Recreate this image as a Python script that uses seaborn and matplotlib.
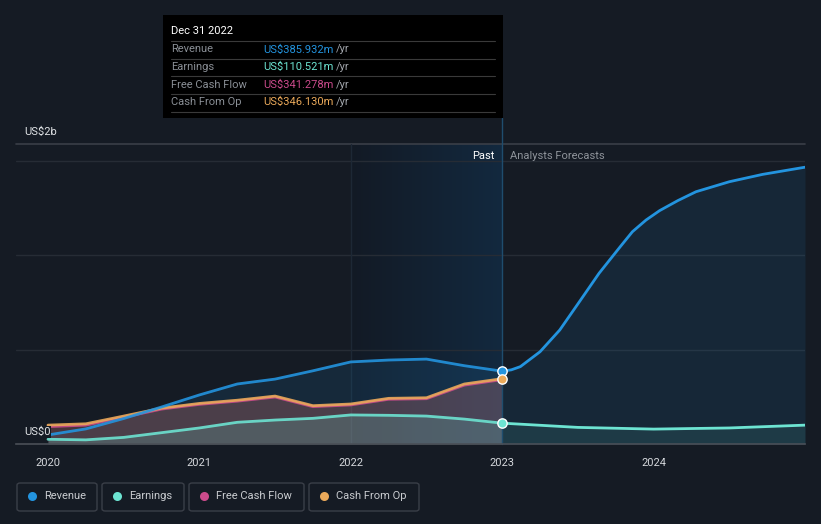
import numpy as np
import pandas as pd
import matplotlib
matplotlib.use("Agg")
import matplotlib.pyplot as plt
import seaborn as sns
from matplotlib.patches import FancyBboxPatch, Rectangle
from matplotlib.lines import Line2D
from matplotlib.colors import LinearSegmentedColormap

# ---------------- data (US$ millions) ----------------
years_past = [2020.0, 2020.25, 2020.5, 2020.75, 2021.0, 2021.25, 2021.5, 2021.75,
              2022.0, 2022.25, 2022.5, 2022.75, 2023.0]
revenue_past = [48, 80, 135, 196, 260, 318, 344, 388, 435, 445, 450, 415, 385.932]
earnings_past = [25, 22, 35, 60, 85, 115, 127, 136, 154, 152, 148, 132, 110.521]
cfo_past = [100, 107, 148, 190, 215, 232, 254, 203, 212, 242, 245, 318, 346.130]
fcf_past = [92, 100, 142, 185, 210, 227, 249, 198, 207, 237, 240, 312, 341.278]

years_rev_fc = [2023.0, 2023.06, 2023.12, 2023.25, 2023.38, 2023.51, 2023.64, 2023.78,
                2023.86, 2023.95, 2024.04, 2024.16, 2024.28, 2024.5, 2024.72, 2025.0]
revenue_fc = [385.932, 393, 410, 489, 604, 754, 905, 1046,
              1125, 1187, 1237, 1290, 1337, 1390, 1429, 1467]
years_earn_fc = [2023.0, 2023.5, 2024.0, 2024.5, 2025.0]
earnings_fc = [110.521, 88, 79, 85, 100]

x_ticks = [2020, 2021, 2022, 2023, 2024]
x_tick_labels = ["2020", "2021", "2022", "2023", "2024"]

series_names = ["Revenue", "Earnings", "Free Cash Flow", "Cash From Op"]
tooltip_values = ["US$385.932m", "US$110.521m", "US$341.278m", "US$346.130m"]

# ---------------- style ----------------
BG = "#151b24"
C = {"Revenue": "#2394df", "Earnings": "#6de4d2",
     "Free Cash Flow": "#cb4b8c", "Cash From Op": "#eaa95a"}

sns.set_theme(style="dark")
plt.rcParams["font.family"] = ["Roboto", "DejaVu Sans"]

W, H = 821, 524
fig = plt.figure(figsize=(W / 100, H / 100), dpi=100, facecolor=BG)
ax = fig.add_axes([16 / W, 1 - 444 / H, (805 - 16) / W, 300 / H])
ax.set_facecolor(BG)

YMAX = 1590
XMIN, XMAX = 2020 - 32 / 151.5, 2025.0
ax.set_xlim(XMIN, XMAX)
ax.set_ylim(0, YMAX)

# past highlight gradient 2022 -> 2023
cmap = LinearSegmentedColormap.from_list("past", ["#121a25", "#13293f"])
ax.imshow(np.linspace(0, 1, 256).reshape(1, -1), extent=[2022, 2023, 0, YMAX],
          aspect="auto", cmap=cmap, zorder=0.2)

# grid lines
for g in [500, 1000, 1500]:
    ax.axhline(g, color="#262c35", lw=1, zorder=0.3)
ax.axhline(YMAX, color="#3a3f48", lw=1.2, zorder=0.3, clip_on=False)
ax.axvline(2022, color="#1d2835", lw=1, zorder=0.4)

# fills (past)
ax.fill_between(years_past, revenue_past, 0, color=C["Revenue"], alpha=0.12, lw=0, zorder=1)
ax.fill_between(years_past, cfo_past, 0, color=C["Cash From Op"], alpha=0.15, lw=0, zorder=1.1)
ax.fill_between(years_past, fcf_past, 0, color=C["Free Cash Flow"], alpha=0.15, lw=0, zorder=1.2)
ax.fill_between(years_past, earnings_past, 0, color=C["Earnings"], alpha=0.18, lw=0, zorder=1.3)
# fills (forecast)
ax.fill_between(years_rev_fc, revenue_fc, 0, color=C["Revenue"], alpha=0.10, lw=0, zorder=1)
ax.fill_between(years_earn_fc, earnings_fc, 0, color=C["Earnings"], alpha=0.10, lw=0, zorder=1.3)

# lines via seaborn
past_df = pd.DataFrame({
    "year": years_past * 4,
    "value": revenue_past + earnings_past + fcf_past + cfo_past,
    "series": sum([[s] * len(years_past) for s in series_names], []),
})
fc_df = pd.DataFrame({
    "year": years_rev_fc + years_earn_fc,
    "value": revenue_fc + earnings_fc,
    "series": ["Revenue"] * len(years_rev_fc) + ["Earnings"] * len(years_earn_fc),
})
order = ["Earnings", "Free Cash Flow", "Cash From Op", "Revenue"]
sns.lineplot(data=past_df, x="year", y="value", hue="series", hue_order=order,
             palette=C, linewidth=2.0, legend=False, ax=ax, alpha=0.9, zorder=3,
             solid_joinstyle="round", solid_capstyle="round")
sns.lineplot(data=fc_df, x="year", y="value", hue="series", hue_order=["Earnings", "Revenue"],
             palette=C, linewidth=2.0, legend=False, ax=ax, zorder=3,
             solid_joinstyle="round", solid_capstyle="round")

# vertical marker line at 2023
ax.axvline(2023, ymin=0, ymax=(444 - 118) / 300, color="#1f4d6e", lw=1, zorder=2.5, clip_on=False)

# end markers
for name, val in [("Revenue", revenue_past[-1]), ("Cash From Op", cfo_past[-1]),
                  ("Earnings", earnings_past[-1])]:
    ax.scatter([2023.0], [val], s=45, color=C[name], edgecolor="white", linewidth=1.0, zorder=5)

# axes styling
for s in ["top", "right", "left"]:
    ax.spines[s].set_visible(False)
ax.spines["bottom"].set_color("#4a4f57")
ax.spines["bottom"].set_linewidth(1.2)
ax.set_xticks(x_ticks)
ax.set_xticklabels(x_tick_labels)
ax.set_yticks([])
ax.tick_params(axis="x", colors="#4a4f57", length=4, width=1, pad=6, labelcolor="#d5d8dc", labelsize=8)
ax.set_xlabel("")
ax.set_ylabel("")
ax.grid(False)

def fx(px):
    return px / W

def fy(py):
    return 1 - py / H

fig.text(fx(24), fy(132), "US$2b", color="#e0e3e6", fontsize=8, va="center", ha="left")
fig.text(fx(24), fy(432), "US$0", color="#e0e3e6", fontsize=8, va="center", ha="left",
         bbox=dict(facecolor=BG, edgecolor="none", pad=0.5), zorder=10)

fig.text(fx(494), fy(156), "Past", color="#ffffff", fontsize=8, va="center", ha="right")
fig.text(fx(510), fy(156), "Analysts Forecasts", color="#8e939a", fontsize=8, va="center", ha="left")

# tooltip
fig.add_artist(Rectangle((fx(163), fy(118)), (503 - 163) / W, (118 - 15) / H,
                         transform=fig.transFigure, facecolor="#000000", edgecolor="none", zorder=20))
fig.text(fx(171), fy(31), "Dec 31 2022", color="#ffffff", fontsize=8, va="center", ha="left", zorder=21)
for yy in [41, 58.5, 76, 93.5, 111.5]:
    fig.add_artist(Line2D([fx(171), fx(495)], [fy(yy), fy(yy)], transform=fig.transFigure,
                          color="#3a3a3a", lw=0.8, zorder=21))
for i, (name, val) in enumerate(zip(series_names, tooltip_values)):
    yy = [49.5, 67, 84.5, 101.8][i]
    fig.text(fx(171), fy(yy), name, color="#8a8f96", fontsize=8, va="center", ha="left", zorder=21)
    fig.text(fx(263), fy(yy), val, color=C[name], fontsize=8, va="center", ha="left", zorder=21)
    fig.text(fx(336), fy(yy), "/yr", color="#a0a4aa", fontsize=8, va="center", ha="left", zorder=21)

# legend boxes
boxes = [(17, 97), (102, 184), (189, 304), (309, 419)]
for (x0, x1), name in zip(boxes, series_names):
    fig.add_artist(FancyBboxPatch((fx(x0), fy(511)), (x1 - x0) / W, 28 / H,
                                  boxstyle="round,pad=0,rounding_size=0.004",
                                  transform=fig.transFigure, facecolor="none",
                                  edgecolor="#3a3f48", lw=1, zorder=5))
    fig.add_artist(Line2D([fx(x0 + 15)], [fy(496)], marker="o", markersize=6.5,
                          color=C[name], markeredgewidth=0, transform=fig.transFigure, zorder=6))
    fig.text(fx(x0 + 27), fy(496), name, color="#c9ccd0", fontsize=8, va="center", ha="left")

fig.savefig("out.png", dpi=100, facecolor=BG)
